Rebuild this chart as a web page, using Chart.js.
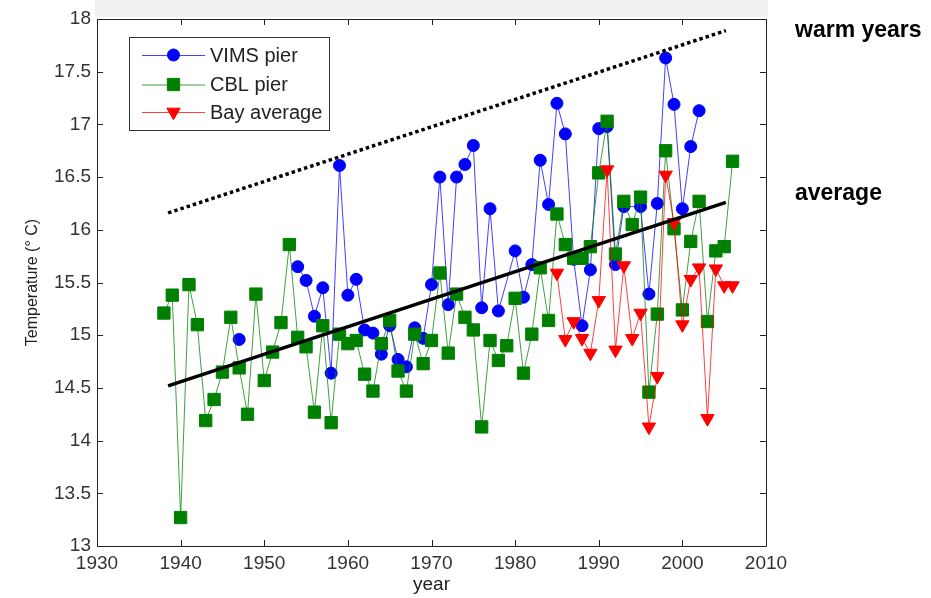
<!DOCTYPE html>
<html><head><meta charset="utf-8">
<script src="https://cdn.jsdelivr.net/npm/chart.js@4.4.0/dist/chart.umd.min.js"></script>
<style>html,body{margin:0;padding:0;background:#fff;}#wrap{position:relative;width:931px;height:598px;}</style>
</head><body><div id="wrap"><canvas id="c" width="931" height="598"></canvas></div>
<script>
const years = [1938,1939,1940,1941,1942,1943,1944,1945,1946,1947,1948,1949,1950,1951,1952,1953,1954,1955,1956,1957,1958,1959,1960,1961,1962,1963,1964,1965,1966,1967,1968,1969,1970,1971,1972,1973,1974,1975,1976,1977,1978,1979,1980,1981,1982,1983,1984,1985,1986,1987,1988,1989,1990,1991,1992,1993,1994,1995,1996,1997,1998,1999,2000,2001,2002,2003,2004,2005,2006];
const vimsPier = [null,null,null,null,null,null,null,null,null,14.96,null,null,null,null,null,null,15.65,15.52,15.18,15.45,14.64,16.61,15.38,15.53,15.05,15.02,14.82,15.09,14.77,14.70,15.07,14.97,15.48,16.50,15.29,16.50,16.62,16.80,15.26,16.20,15.23,null,15.80,15.36,15.67,16.66,16.24,17.20,16.91,15.72,15.09,15.62,16.96,16.98,15.67,16.22,null,16.22,15.39,16.25,17.63,17.19,16.20,16.79,17.13,null,null,null,null];
const cblPier = [15.21,15.38,13.27,15.48,15.10,14.19,14.39,14.65,15.17,14.69,14.25,15.39,14.57,14.84,15.12,15.86,14.98,14.89,14.27,15.09,14.17,15.01,14.92,14.95,14.63,14.47,14.92,15.14,14.66,14.47,15.01,14.73,14.95,15.59,14.83,15.39,15.17,15.05,14.13,14.95,14.76,14.90,15.35,14.64,15.01,15.64,15.14,16.15,15.86,15.73,15.73,15.84,16.54,17.03,15.77,16.27,16.05,16.31,14.46,15.20,16.75,16.01,15.24,15.89,16.27,15.13,15.80,15.84,16.65];
const bayAverage = [null,null,null,null,null,null,null,null,null,null,null,null,null,null,null,null,null,null,null,null,null,null,null,null,null,null,null,null,null,null,null,null,null,null,null,null,null,null,null,null,null,null,null,null,null,null,null,15.59,14.96,15.13,14.97,14.83,15.33,16.57,14.86,15.66,14.97,15.21,14.13,14.61,16.52,16.07,15.10,15.53,15.64,14.21,15.63,15.47,15.47];
const fitYears = [1938.5, 2005.2];
const averageFit = [14.52, 16.26];
const warmFit = [16.16, 17.89];
const xTicks = [1930,1940,1950,1960,1970,1980,1990,2000,2010];
const yTicks = [13,13.5,14,14.5,15,15.5,16,16.5,17,17.5,18];
const seriesNames = ['VIMS pier','CBL pier','Bay average'];
const sideLabels = ['warm years','average'];

const FONT = "'Liberation Sans', Arial, sans-serif";
const toPts = (xs, ys) => xs.map((x,i)=>({x:x, y:ys[i]})).filter(p => p.y !== null);

const styles = [
  {color:'#0000ff', line:'rgba(0,0,255,0.75)', pointStyle:'circle', r:6, rot:0},
  {color:'#008000', line:'rgba(0,128,0,0.75)', pointStyle:'rect', r:8.7, rot:0},
  {color:'#ff0000', line:'rgba(255,0,0,0.75)', pointStyle:'triangle', r:7.7, rot:180}
];
const seriesData = [vimsPier, cblPier, bayAverage];

const datasets = seriesData.map((vals, i) => ({
  label: seriesNames[i],
  data: toPts(years, vals),
  showLine: true,
  spanGaps: 2.5,
  borderColor: styles[i].line,
  backgroundColor: styles[i].color,
  borderWidth: 1,
  pointStyle: styles[i].pointStyle,
  pointRadius: styles[i].r,
  pointRotation: styles[i].rot,
  pointBorderWidth: 1,
  pointBorderColor: styles[i].color,
  pointBackgroundColor: styles[i].color,
  order: 3 - i
}));
datasets.push({
  label: 'average fit', data: toPts(fitYears, averageFit), showLine: true,
  borderColor: '#000', borderWidth: 3.5, pointRadius: 0, order: 0
});
datasets.push({
  label: 'warm fit', data: toPts(fitYears, warmFit), showLine: true,
  borderColor: '#000', borderWidth: 3.5, borderDash: [3.5, 3], pointRadius: 0, order: 0
});

const framePlugin = {
  id: 'frame',
  beforeDraw(chart) {
    const ctx = chart.ctx;
    ctx.save();
    ctx.fillStyle = '#fff';
    ctx.fillRect(0, 0, chart.width, chart.height);
    ctx.fillStyle = '#f0f0f0';
    ctx.fillRect(95, 0, 673, 17);
    ctx.restore();
  },
  afterDraw(chart) {
    const ctx = chart.ctx, a = chart.chartArea;
    const xs = chart.scales.x, ys = chart.scales.y;
    ctx.save();
    ctx.strokeStyle = '#222';
    ctx.lineWidth = 1;
    ctx.beginPath();
    ctx.rect(Math.round(a.left)+0.5, Math.round(a.top)+0.5, Math.round(a.right - a.left), Math.round(a.bottom - a.top));
    ctx.stroke();
    ctx.beginPath();
    xTicks.forEach(v => {
      const px = Math.round(xs.getPixelForValue(v)) + 0.5;
      ctx.moveTo(px, a.bottom); ctx.lineTo(px, a.bottom - 6);
      ctx.moveTo(px, a.top); ctx.lineTo(px, a.top + 6);
    });
    yTicks.forEach(v => {
      const py = Math.round(ys.getPixelForValue(v)) + 0.5;
      ctx.moveTo(a.left, py); ctx.lineTo(a.left + 6, py);
      ctx.moveTo(a.right, py); ctx.lineTo(a.right - 6, py);
    });
    ctx.stroke();

    // legend
    const lx = 129.5, ly = 37.5, lw = 200, lh = 93;
    ctx.fillStyle = '#fff';
    ctx.fillRect(lx, ly, lw, lh);
    ctx.strokeStyle = '#333';
    ctx.strokeRect(lx, ly, lw, lh);
    const rows = [55, 84.5, 112];
    ctx.font = '20px ' + FONT;
    ctx.textBaseline = 'middle';
    ctx.textAlign = 'left';
    seriesNames.forEach((name, i) => {
      const y = rows[i];
      ctx.strokeStyle = styles[i].line;
      ctx.lineWidth = 1;
      ctx.beginPath(); ctx.moveTo(142, y + 0.5); ctx.lineTo(205, y + 0.5); ctx.stroke();
      ctx.fillStyle = styles[i].color;
      ctx.strokeStyle = styles[i].color;
      Chart.helpers.drawPoint(ctx, {pointStyle: styles[i].pointStyle, radius: styles[i].r, rotation: styles[i].rot, borderWidth: 1}, 173.5, y);
      ctx.fillStyle = '#222';
      ctx.fillText(name, 210, y + 1);
    });

    // side labels
    ctx.fillStyle = '#000';
    ctx.font = 'bold 23px ' + FONT;
    ctx.fillText(sideLabels[0], 795, 31);
    ctx.fillText(sideLabels[1], 795, 194);
    ctx.restore();
  }
};

new Chart(document.getElementById('c'), {
  type: 'scatter',
  data: { datasets },
  options: {
    responsive: false, animation: false, devicePixelRatio: 1,
    layout: { padding: { left: 0, top: 19, right: 165, bottom: 0 } },
    plugins: { legend: { display: false }, tooltip: { enabled: false } },
    scales: {
      x: {
        type: 'linear', min: 1930, max: 2010,
        afterBuildTicks: s => { s.ticks = xTicks.map(v => ({value: v})); },
        afterFit: s => { s.height = 52; },
        grid: { display: false, drawTicks: false },
        border: { display: false },
        ticks: { font: { family: FONT, size: 19 }, color: '#333', padding: 6, maxRotation: 0, callback: v => String(v) },
        title: { display: true, text: 'year', font: { family: FONT, size: 19 }, color: '#222', padding: { top: 0, bottom: 2 } }
      },
      y: {
        type: 'linear', min: 13, max: 18,
        afterBuildTicks: s => { s.ticks = yTicks.map(v => ({value: v})); },
        afterFit: s => { s.width = 97; },
        grid: { display: false, drawTicks: false },
        border: { display: false },
        ticks: { font: { family: FONT, size: 19 }, color: '#333', padding: 6, callback: v => String(v) },
        title: { display: true, text: 'Temperature (° C)', font: { family: FONT, size: 16 }, color: '#222', padding: { top: 23, bottom: 0 } }
      }
    }
  },
  plugins: [framePlugin]
});
</script>
</body></html>
